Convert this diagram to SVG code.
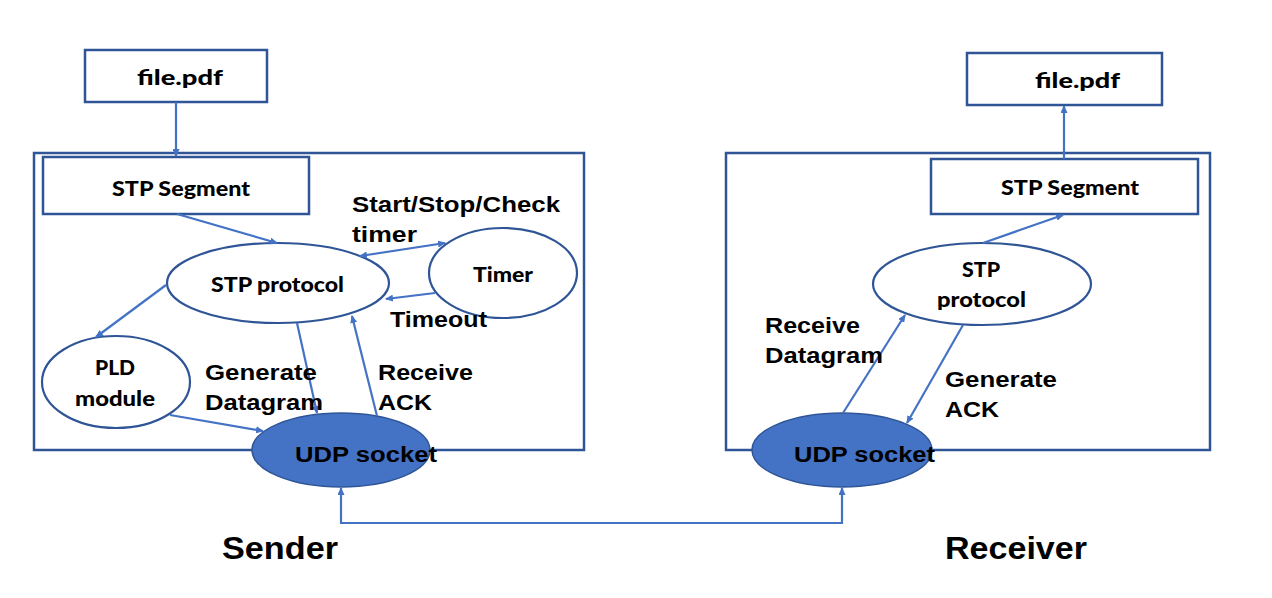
<svg xmlns="http://www.w3.org/2000/svg" width="1272" height="598" viewBox="0 0 1272 598">
<defs>
<marker id="ah" markerUnits="userSpaceOnUse" markerWidth="8" markerHeight="7" refX="7" refY="3.5" orient="auto-start-reverse">
<path d="M0,0 L8,3.5 L0,7 z" fill="#4472C4"/>
</marker>
<style>
.box{fill:#fff;stroke:#2F5597;stroke-width:2.5}
.frame{fill:none;stroke:#2F5597;stroke-width:2.5}
.ell{fill:#fff;stroke:#2F5597;stroke-width:2.2}
.udp{fill:#4472C4;stroke:#2F5597;stroke-width:1.5}
.c{fill:none;stroke:#4472C4;stroke-width:2.2;marker-end:url(#ah)}
.cb{fill:none;stroke:#4472C4;stroke-width:2.2;marker-end:url(#ah);marker-start:url(#ah)}
.t1{font-family:Lato,"Liberation Sans",sans-serif;font-weight:900;font-size:20px;fill:#000}
.t2{font-family:"Liberation Sans",Arial,sans-serif;font-weight:bold;font-size:22px;fill:#000}
.t3{font-family:"Liberation Sans",Arial,sans-serif;font-weight:bold;font-size:32px;fill:#000}
</style>
</defs>
<rect width="1272" height="598" fill="#fff"/>

<g id="sender-frame"><rect class="frame" x="34" y="153" width="550" height="297"/></g>
<g id="receiver-frame"><rect class="frame" x="726" y="153" width="484" height="297"/></g>

<g id="file-left"><rect class="box" x="85" y="50" width="182" height="52"/>
<text class="t1" x="137" y="85" textLength="86" lengthAdjust="spacingAndGlyphs" font-size="21">file.pdf</text></g>
<g id="seg-left"><rect class="box" x="43" y="157" width="266" height="57"/>
<text class="t1" x="112" y="196" textLength="138" lengthAdjust="spacingAndGlyphs">STP Segment</text></g>
<g id="stp-left"><ellipse class="ell" cx="278" cy="283" rx="111" ry="40"/>
<text class="t1" x="211" y="292" textLength="133" lengthAdjust="spacingAndGlyphs">STP protocol</text></g>
<g id="timer"><ellipse class="ell" cx="503" cy="273" rx="74" ry="45"/>
<text class="t1" x="473" y="282" textLength="60" lengthAdjust="spacingAndGlyphs">Timer</text></g>
<g id="pld"><ellipse class="ell" cx="116" cy="382" rx="74" ry="46"/>
<text class="t1" x="95" y="375" textLength="40" lengthAdjust="spacingAndGlyphs" font-size="19">PLD</text>
<text class="t1" x="75" y="406" textLength="80" lengthAdjust="spacingAndGlyphs" font-size="19">module</text></g>
<g id="udp-left"><ellipse class="udp" cx="341" cy="450" rx="89" ry="37"/>
<text class="t2" x="295" y="462" textLength="142" lengthAdjust="spacingAndGlyphs" font-size="24">UDP socket</text></g>

<g id="file-right"><rect class="box" x="967" y="53" width="195" height="52"/>
<text class="t1" x="1035" y="88" textLength="85" lengthAdjust="spacingAndGlyphs" font-size="21">file.pdf</text></g>
<g id="seg-right"><rect class="box" x="931" y="159" width="267" height="55"/>
<text class="t1" x="1001" y="195" textLength="138" lengthAdjust="spacingAndGlyphs">STP Segment</text></g>
<g id="stp-right"><ellipse class="ell" cx="982" cy="284" rx="109" ry="41"/>
<text class="t1" x="962" y="277" textLength="38" lengthAdjust="spacingAndGlyphs">STP</text>
<text class="t1" x="937" y="307" textLength="89" lengthAdjust="spacingAndGlyphs">protocol</text></g>
<g id="udp-right"><ellipse class="udp" cx="842" cy="450" rx="90" ry="37"/>
<text class="t2" x="794" y="462" textLength="141" lengthAdjust="spacingAndGlyphs" font-size="24">UDP socket</text></g>

<g id="connectors">
<path class="c" d="M176,102 L176,156"/>
<path class="c" d="M177,214 L277,243"/>
<path class="cb" d="M360,256 L445,243"/>
<path class="c" d="M435,293 L386,299"/>
<path class="c" d="M166,285 L96,337"/>
<path class="c" d="M170,415 L263,431"/>
<path class="c" d="M297,323 L317,413"/>
<path class="c" d="M377,416 L352,316"/>
<path class="c" d="M1064,159 L1064,106"/>
<path class="c" d="M983,243 L1063,215"/>
<path class="c" d="M843,413 L905,315"/>
<path class="c" d="M963,325 L907,423"/>
<path class="cb" d="M341,488 L341,523 L842,523 L842,488"/>
</g>

<g id="labels">
<text class="t2" x="352" y="212" textLength="208" lengthAdjust="spacingAndGlyphs">Start/Stop/Check</text>
<text class="t2" x="352" y="242" textLength="65" lengthAdjust="spacingAndGlyphs">timer</text>
<text class="t2" x="390" y="327" textLength="97" lengthAdjust="spacingAndGlyphs">Timeout</text>
<text class="t2" x="205" y="380" textLength="112" lengthAdjust="spacingAndGlyphs">Generate</text>
<text class="t2" x="205" y="410" textLength="118" lengthAdjust="spacingAndGlyphs">Datagram</text>
<text class="t2" x="378" y="380" textLength="95" lengthAdjust="spacingAndGlyphs">Receive</text>
<text class="t2" x="378" y="410" textLength="54" lengthAdjust="spacingAndGlyphs">ACK</text>
<text class="t2" x="765" y="333" textLength="95" lengthAdjust="spacingAndGlyphs">Receive</text>
<text class="t2" x="765" y="363" textLength="118" lengthAdjust="spacingAndGlyphs">Datagram</text>
<text class="t2" x="945" y="387" textLength="112" lengthAdjust="spacingAndGlyphs">Generate</text>
<text class="t2" x="945" y="417" textLength="54" lengthAdjust="spacingAndGlyphs">ACK</text>
<text class="t3" x="222" y="559" textLength="116" lengthAdjust="spacingAndGlyphs">Sender</text>
<text class="t3" x="945" y="559" textLength="142" lengthAdjust="spacingAndGlyphs">Receiver</text>
</g>
</svg>
